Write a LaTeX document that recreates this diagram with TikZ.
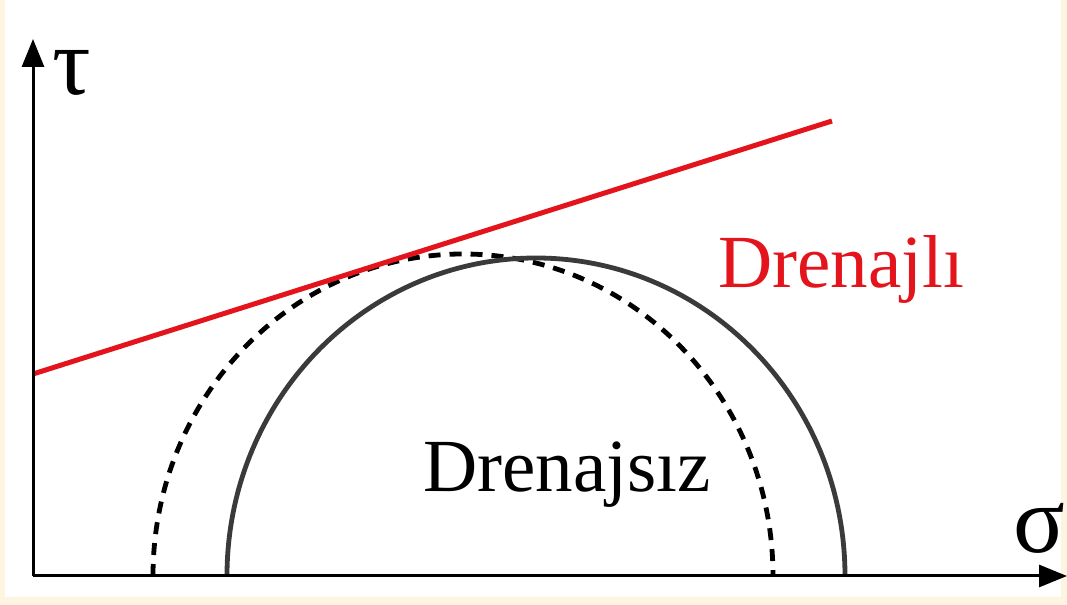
\documentclass[tikz,border=0pt]{standalone}
\usepackage{fontspec}
\setmainfont{Liberation Serif}
\usepackage{xcolor}
\usetikzlibrary{arrows.meta}
\definecolor{cream}{HTML}{FFF4DF}
\definecolor{circgray}{HTML}{3A3A3A}
\definecolor{envred}{HTML}{E3141B}
\tikzset{
  axis/.style={line width=1.5pt,-{Triangle[length=14pt,width=11pt]}},
  lbl/.style={inner sep=0pt,anchor=base west,font=\fontsize{37.5}{40}\selectfont},
  greek/.style={inner sep=0pt,anchor=base west,font=\fontsize{48}{50}\selectfont}
}
\begin{document}
\begin{tikzpicture}[x=0.5pt,y=0.5pt]
\fill[cream](0,0)rectangle(1067,605);
\fill[white](5,8)rectangle(1061,605);
\useasboundingbox(0,0)rectangle(1067,605);
\coordinate(O)at(33,29);
\coordinate(tauend)at(33,566);
\coordinate(sigend)at(1067,29);
\coordinate(envA)at(33,231);
\coordinate(envB)at(832,484);
% undrained and drained circles
\draw[line width=2.4pt,dash pattern=on 6pt off 4.5pt](153,29)arc[start angle=180,end angle=0,x radius=310,y radius=322];
\draw[line width=2.4pt,circgray](227,29)arc[start angle=180,end angle=0,x radius=309,y radius=318];
% failure envelope
\draw[line width=2.5pt,envred](envA)--(envB);
% axes
\draw[axis](O)--(tauend);
\draw[axis](O)--(sigend);
\node[greek](tau)at(52,510){τ};
\node[greek](sig)at(1013,52){σ};
\node[lbl,envred](drained)at(718,317){Drenajlı};
\node[lbl](undrained)at(423,113){Drenajsız};
\end{tikzpicture}
\end{document}
